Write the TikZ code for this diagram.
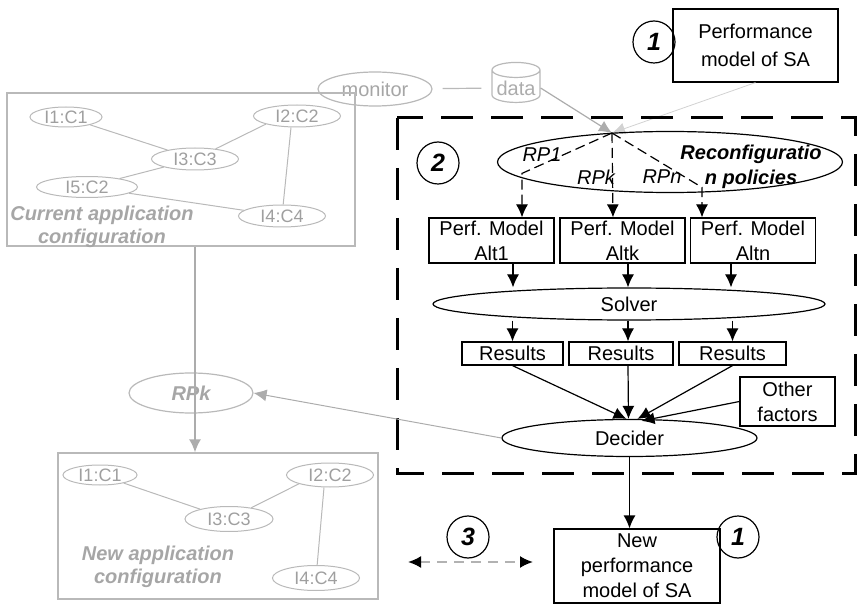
\documentclass[tikz,border=0pt]{standalone}
\usepackage{fontspec}
\setmainfont{Liberation Sans}
\usepackage{xcolor}
\usetikzlibrary{shapes,arrows,arrows.meta,positioning}

\begin{document}
\begin{tikzpicture}[
    x=0.5pt, y=-0.5pt,
    font=\fontsize{10}{12.5}\selectfont,
    block/.style={rectangle, draw, line width=0.6pt, align=center, inner sep=1pt},
    oval/.style={ellipse, draw, line width=0.6pt, inner sep=0pt},
    comp/.style={ellipse, draw=gray!55, text=gray!75, line width=0.5pt, inner sep=0pt, minimum width=43.5pt, minimum height=11pt, font=\fontsize{9}{10}\selectfont},
    cfgbox/.style={rectangle, draw=gray!55, line width=0.6pt},
    cfglabel/.style={text=gray!70, align=center, font=\fontsize{10}{11.5}\selectfont\bfseries\itshape},
    num/.style={circle, draw, line width=0.6pt, minimum size=21pt, inner sep=0pt, font=\fontsize{12.5}{12.5}\selectfont\bfseries\itshape},
    arrow/.style={line width=0.6pt, -{Latex[length=6.5pt,width=6pt]}},
    garrow/.style={gray!65, line width=0.6pt, -{Latex[length=6.5pt,width=6pt]}},
    darrow/.style={arrow, dash pattern=on 5pt off 2.5pt},
    link/.style={gray!55, line width=0.5pt}
]
\useasboundingbox (0,0) rectangle (857,604);

% monitoring side
\node [block, minimum width=82.5pt, minimum height=36.5pt, font=\fontsize{10}{14}\selectfont] (perf) at (755.5,45.5) {Performance\\model of SA};
\node [num] (num1) at (654,42) {1};
\node [ellipse, draw=gray!55, text=gray!70, line width=0.6pt, minimum width=57pt, minimum height=17pt, inner sep=0pt] (monitor) at (375,89) {monitor};
\node [cylinder, shape border rotate=90, aspect=0.35, draw=gray!55, text=gray!65, line width=0.6pt, minimum width=24pt, minimum height=20pt, inner sep=1pt] (data) at (516,88) {data};
\coordinate (apex) at (612,133);

\draw [link, line width=0.6pt, shorten <=5pt, shorten >=5pt] (monitor) -- (data);
\draw [garrow] (data.east) -- (apex);
\draw [garrow, gray!35, line width=0.4pt] (perf.south) -- (apex);

% reconfiguration part
\draw [line width=1.5pt, dash pattern=on 16pt off 9pt] (397,118) rectangle (855,473);
\node [num] (num2) at (438,163) {2};
\node [oval, minimum width=172.5pt, minimum height=30.5pt] (policies) at (670,162) {};
\node [align=center, font=\fontsize{10}{12.5}\selectfont\bfseries\itshape] (policytxt) at (751,167) {Reconfiguratio\\n policies};

\node [block, minimum width=62.5pt, minimum height=22.5pt] (alt1) at (491.5,240.5) {Perf. Model\\Alt1};
\node [block, minimum width=62.5pt, minimum height=22.5pt] (altk) at (622.5,240.5) {Perf. Model\\Altk};
\node [block, minimum width=62.5pt, minimum height=22.5pt] (altn) at (753,240.5) {Perf. Model\\Altn};

\draw [darrow] (apex) -- ([xshift=15.25pt,yshift=22pt]alt1.north) -- ([xshift=15.25pt]alt1.north);
\draw [darrow] (apex) -- ([xshift=-4.75pt]altk.north);
\draw [darrow] (apex) -- ([xshift=-25.5pt,yshift=15pt]altn.north) -- ([xshift=-25.5pt]altn.north);
\node [font=\itshape] (rp1) at (542,155) {RP1};
\node [font=\itshape] (rpk) at (596,177) {RPk};
\node [font=\itshape] (rpn) at (662,177) {RPn};

\node [oval, minimum width=196pt, minimum height=16pt] (solver) at (629,304) {Solver};
\node [block, minimum width=50.5pt, minimum height=11.5pt] (res1) at (512.5,353.5) {Results};
\node [block, minimum width=52pt, minimum height=11.5pt] (resk) at (621,353.5) {Results};
\node [block, minimum width=53.5pt, minimum height=11.5pt] (resn) at (732.5,353.5) {Results};

\draw [arrow] ([xshift=10.75pt]alt1.south) -- ([xshift=10.75pt]alt1.south |- solver.north);
\draw [arrow] ([xshift=2.75pt]altk.south) -- ([xshift=2.75pt]altk.south |- solver.north);
\draw [arrow] ([xshift=-11pt]altn.south) -- ([xshift=-11pt]altn.south |- solver.north);
\draw [arrow] (res1.north |- solver.south) -- (res1.north);
\draw [arrow] ([xshift=3.5pt]resk.north |- solver.south) -- ([xshift=3.5pt]resk.north);
\draw [arrow] (resn.north |- solver.south) -- (resn.north);

\node [oval, minimum width=127.5pt, minimum height=18.5pt] (decider) at (629.5,438) {Decider};
\node [block, minimum width=47.5pt, minimum height=24.5pt] (other) at (787.5,401.5) {Other\\factors};

\draw [arrow] (res1.south) -- ([xshift=-1.5pt]decider.north);
\draw [arrow] ([xshift=3.5pt]resk.south) -- ([xshift=-0.5pt]decider.north);
\draw [arrow] (resn.south) -- ([xshift=4pt]decider.north);
\draw [arrow] (other.west) -- ([xshift=6pt,yshift=-1pt]decider.north);

% application configurations
\node [cfgbox, minimum width=174pt, minimum height=76.5pt] (current) at (181,169.5) {};
\node [comp, minimum width=36pt, minimum height=10pt] (cur1) at (66,117) {I1:C1};
\node [comp] (cur2) at (297,116) {I2:C2};
\node [comp] (cur3) at (195,159) {I3:C3};
\node [comp, minimum width=50.5pt, minimum height=10.5pt] (cur5) at (87,187) {I5:C2};
\node [comp] (cur4) at (282,216) {I4:C4};
\node [cfglabel] (curlabel) at (102,227) {Current application\\configuration};
\draw [link] (cur1) -- (cur3);
\draw [link] (cur3) -- (cur2.south west);
\draw [link] ([xshift=-3pt]cur2.south) -- (cur4);
\draw [link] (cur5) -- (cur3);
\draw [link] (cur5) -- (cur4);

\node [ellipse, draw=gray!55, text=gray!70, line width=0.6pt, minimum width=62pt, minimum height=20pt, inner sep=0pt, font=\fontsize{10}{12}\selectfont\bfseries\itshape] (rpkapp) at (191,393) {RPk};

\node [cfgbox, minimum width=160pt, minimum height=73pt] (newcfg) at (218,526) {};
\node [comp, minimum width=37pt, minimum height=10pt] (new1) at (100,475) {I1:C1};
\node [comp, minimum height=12pt] (new2) at (330,475) {I2:C2};
\node [comp, minimum width=44pt, minimum height=12.5pt] (new3) at (229,519) {I3:C3};
\node [comp, minimum height=12.5pt] (new4) at (316,578) {I4:C4};
\node [cfglabel] (newlabel) at (158,567) {New application\\configuration};
\draw [link] (new1) -- (new3);
\draw [link] (new3) -- (new2.south west);
\draw [link] ([xshift=-3pt]new2.south) -- (new4);

\draw [garrow, line width=0.9pt] ([xshift=2pt]rpkapp.center |- current.south) -- ([xshift=2pt]rpkapp.center |- newcfg.north);
\draw [garrow, line width=0.5pt] (decider.west) -- (rpkapp.east);

% new model
\node [block, minimum width=83pt, minimum height=37pt] (newperf) at (637,566) {New\\performance\\model of SA};
\node [num] (num1b) at (738,537) {1};
\draw [arrow] (decider.south) -- (decider.south |- newperf.north);

\node [num] (num3) at (468,537) {3};
\coordinate (leftend) at (408,562);
\coordinate (rightend) at (533,562);
\draw [gray!60, line width=1pt, dash pattern=on 5pt off 3.5pt, {Latex[black,length=6.5pt,width=6pt]}-{Latex[black,length=6.5pt,width=6pt]}] (leftend) -- (rightend);

\end{tikzpicture}
\end{document}
